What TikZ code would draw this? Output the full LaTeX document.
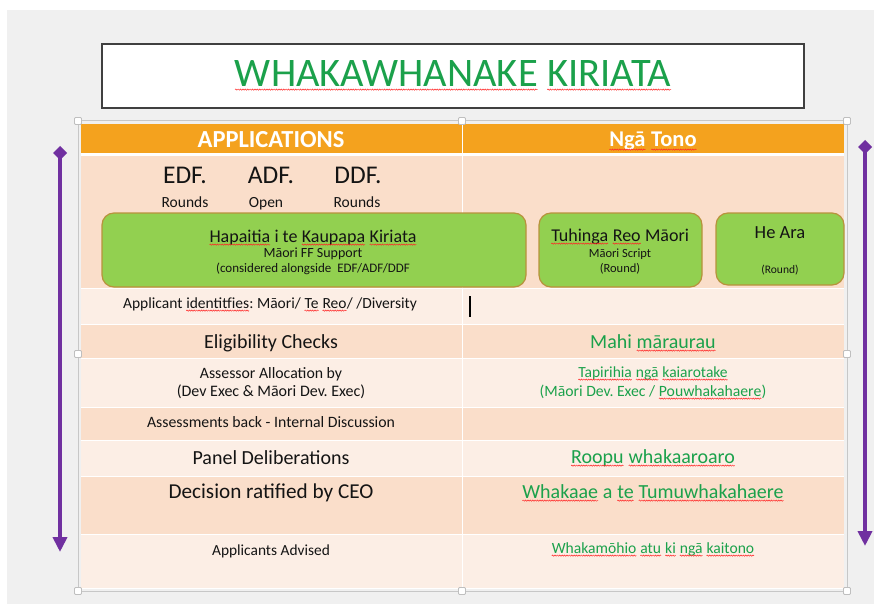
\documentclass[tikz,border=0pt]{standalone}
\usepackage{fontspec}
\setmainfont{Carlito}
\usetikzlibrary{arrows.meta,decorations.pathmorphing}
\definecolor{bggrey}{HTML}{F0F0F0}
\definecolor{titleedge}{HTML}{404040}
\definecolor{hdrorange}{HTML}{F4A21E}
\definecolor{rowdark}{HTML}{FADECA}
\definecolor{rowlight}{HTML}{FCEEE5}
\definecolor{boxgreen}{HTML}{92D050}
\definecolor{boxedge}{HTML}{B8923C}
\definecolor{maorigreen}{HTML}{1BA14B}
\definecolor{inkblack}{HTML}{141414}
\definecolor{flowpurple}{HTML}{7030A0}
\newcommand\fsz[1]{\fontsize{#1}{#1}\selectfont}
\newcommand\spl[1]{\tikz[baseline=(w.base),x=1pt,y=1pt]{\node[inner sep=0pt,outer sep=0pt,anchor=base] (w) at (0,0) {#1};
    \draw[red!85!white,line width=0.5pt,decorate,decoration={snake,amplitude=0.6pt,segment length=2.4pt}] ([yshift=-2.6pt]w.base west) -- ([yshift=-2.6pt]w.base east);}}
\tikzset{
    lbl/.style={inner sep=0pt,anchor=base,text=inkblack},
    mg/.style={lbl,text=maorigreen},
    gbox/.style={draw=boxedge,line width=1.2pt,fill=boxgreen,rounded corners=12pt},
    handle/.style={draw=black!25,fill=white,line width=0.8pt,rounded corners=1pt},
    flow/.style={flowpurple,line width=4.5pt,{Diamond[width=14pt,length=14pt]}-{Triangle[width=14pt,length=15pt]}}
}
\frenchspacing
\begin{document}
\begin{tikzpicture}[x=1pt,y=-1pt]
        \fill[white] (0,0) rectangle (874,604);
        \fill[bggrey] (7,10) rectangle (874,604);

        \node[draw=titleedge,line width=2.4pt,fill=white,minimum width=702pt,minimum height=64pt] (tbox) at (453,76) {};
        \node[lbl,text=maorigreen,font=\fsz{40.5}] (title) at (453,87) {\spl{WHAKAWHANAKE} \spl{KIRIATA}};

        \fill[white] (81,124) rectangle (844,589);
        \fill[hdrorange] (81,124) rectangle (844,153);
        \foreach \ya/\yb/\rc in {156/288/rowdark,289/324/rowlight,325/358/rowdark,359/407/rowlight,408/440/rowdark,441/476/rowlight,477/534/rowdark,535/588/rowlight}
            \fill[\rc] (81,\ya) rectangle (844,\yb);
        \draw[white,line width=1pt] (462,124) -- (462,588);
        \draw[black!22,line width=1pt] (78,121) rectangle (847,591);
        \foreach \hx/\hy in {78/121,462/121,847/121,78/354,847/354,78/591,462/591,847/591}
            \draw[handle] (\hx-3.5,\hy-3.5) rectangle +(7,7);

        \node[lbl,text=white,font=\bfseries\fsz{24.5}] (apps) at (271,147.5) {APPLICATIONS};
        \node[lbl,text=white,font=\bfseries\fsz{22.5}] (tono) at (653,147) {\spl{Ngā} \spl{Tono}};

        \node[lbl,font=\fsz{25.5}] (edf) at (185,183) {EDF.};
        \node[lbl,font=\fsz{25.5}] (adf) at (271,183) {ADF.};
        \node[lbl,font=\fsz{25.5}] (ddf) at (358,183) {DDF.};
        \node[lbl,font=\fsz{15.5}] (edfr) at (185,207) {Rounds};
        \node[lbl,font=\fsz{15.5}] (adfo) at (266,207) {Open};
        \node[lbl,font=\fsz{15.5}] (ddfr) at (357,207) {Rounds};

        \node[gbox,minimum width=424pt,minimum height=74pt] (hapai) at (314,250) {};
        \node[gbox,minimum width=163pt,minimum height=74pt] (tuhi) at (620.5,250) {};
        \node[gbox,minimum width=128pt,minimum height=72pt] (heara) at (780,249) {};
        \node[lbl,font=\fsz{18}] (hapait) at (313,242) {\spl{Hapaitia} i te \spl{Kaupapa} \spl{Kiriata}};
        \node[lbl,font=\fsz{14}] (hapais) at (313,257) {Māori FF Support};
        \node[lbl,font=\fsz{13}] (hapaic) at (313,272) {(considered alongside\ \ EDF/ADF/DDF};
        \node[lbl,font=\fsz{18}] (tuhit) at (620,241) {\spl{Tuhinga} \spl{Reo} Māori};
        \node[lbl,font=\fsz{12.5}] (tuhis) at (620,257) {Māori Script};
        \node[lbl,font=\fsz{12.5}] (tuhir) at (620,272) {(Round)};
        \node[lbl,font=\fsz{18.5}] (hearat) at (780,238) {He Ara};
        \node[lbl,font=\fsz{11.5}] (hearar) at (780,273) {(Round)};

        \node[lbl,font=\fsz{15.5}] (ident) at (270,308) {Applicant \spl{identitfies}: Māori/ \spl{Te} \spl{Reo}/ /Diversity};
        \draw[black,line width=1.6pt] (470,296) -- (470,317);

        \node[lbl,font=\fsz{20}] (elig) at (271,348) {Eligibility Checks};
        \node[mg,font=\fsz{20}] (mahi) at (653,348) {Mahi \spl{māraurau}};
        \node[lbl,font=\fsz{15.8}] (assa) at (271,378) {Assessor Allocation by};
        \node[lbl,font=\fsz{16}] (assb) at (271,396) {(Dev Exec \& Māori Dev. Exec)};
        \node[mg,font=\fsz{15.5}] (tapa) at (653,377) {\spl{Tapirihia} \spl{ngā} \spl{kaiarotake}};
        \node[mg,font=\fsz{15.7}] (tapb) at (653,396) {(Māori Dev. Exec / \spl{Pouwhakahaere})};
        \node[lbl,font=\fsz{15.8}] (back) at (271,427) {Assessments back - Internal Discussion};
        \node[lbl,font=\fsz{20}] (panel) at (271,464) {Panel Deliberations};
        \node[mg,font=\fsz{20}] (roopu) at (653,463) {\spl{Roopu} \spl{whakaaroaro}};
        \node[lbl,font=\fsz{21.2}] (ceo) at (271,498) {Decision ratified by CEO};
        \node[mg,font=\fsz{20}] (whaka) at (653,498) {\spl{Whakaae} a \spl{te} \spl{Tumuwhakahaere}};
        \node[lbl,font=\fsz{15.4}] (advis) at (271,555) {Applicants Advised};
        \node[mg,font=\fsz{15.6}] (mohio) at (653,553) {\spl{Whakamōhio} \spl{atu} \spl{ki} \spl{ngā} \spl{kaitono}};

        \coordinate (ltop) at (60,146);
        \coordinate (lbot) at (60,552);
        \coordinate (rtop) at (865,140);
        \coordinate (rbot) at (865,546);
        \draw[flow] (ltop) -- (lbot);
        \draw[flow] (rtop) -- (rbot);
\end{tikzpicture}
\end{document}
